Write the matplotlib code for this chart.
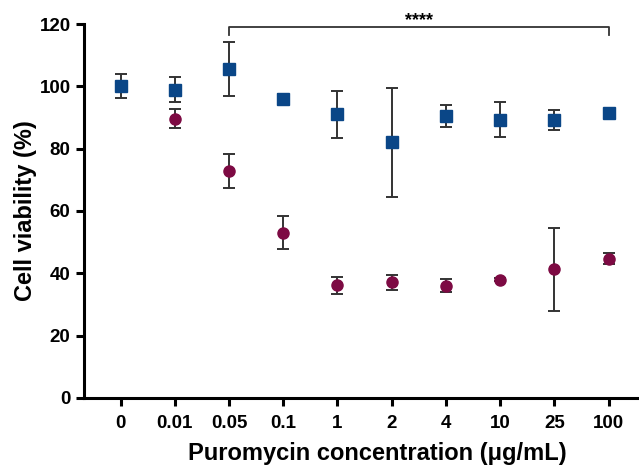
import matplotlib
matplotlib.use("Agg")
import matplotlib.pyplot as plt
import numpy as np

plt.rcParams['font.family'] = ['Liberation Sans', 'DejaVu Sans']
plt.rcParams['font.weight'] = 'bold'

conc = ["0", "0.01", "0.05", "0.1", "1", "2", "4", "10", "25", "100"]

# blue squares
blue_mean = [100.1, 98.8, 105.5, 96.0, 91.0, 82.0, 90.6, 89.3, 89.1, 91.4]
blue_lo = [96.3, 94.9, 96.9, 94.6, 83.5, 64.5, 87.0, 83.7, 86.0, 90.4]
blue_hi = [103.9, 102.9, 114.1, 97.6, 98.5, 99.4, 94.1, 94.9, 92.4, 92.4]

# purple circles
purp_mean = [100.0, 89.5, 72.7, 52.8, 36.3, 37.1, 36.0, 38.0, 41.4, 44.6]
purp_lo = [100.0, 86.5, 67.3, 47.9, 33.5, 34.6, 34.1, 37.5, 28.0, 43.0]
purp_hi = [100.0, 92.7, 78.3, 58.3, 38.8, 39.5, 38.1, 38.5, 54.6, 46.5]

blue = "#0a4687"
purple = "#7d0a43"
errc = "#333333"

x = np.arange(len(conc))

fig = plt.figure(figsize=(6.39, 4.68), dpi=100)
ax = fig.add_axes([0.131, 0.1496, 0.869, 0.7991])

pm = np.array(purp_mean)
ax.errorbar(x, pm, yerr=[pm - np.array(purp_lo), np.array(purp_hi) - pm],
            fmt='o', color=purple, ms=8, ecolor=errc, elinewidth=1.4,
            capsize=4.2, capthick=1.4, zorder=2)
bm = np.array(blue_mean)
ax.errorbar(x, bm, yerr=[bm - np.array(blue_lo), np.array(blue_hi) - bm],
            fmt='s', color=blue, ms=9, ecolor=errc, elinewidth=1.4,
            capsize=4.2, capthick=1.4, zorder=3)

# significance bracket
ax.plot([2, 2, 9, 9], [116.5, 118.9, 118.9, 116.5], color=errc, lw=1.3,
        clip_on=False)
ax.text(5.5, 118.5, "****", ha='center', va='bottom', fontsize=13,
        fontweight='bold')

ax.set_xlim(-0.68, 9.56)
ax.set_ylim(0, 120)
ax.set_xticks(x)
ax.set_xticklabels(conc)
ax.set_yticks([0, 20, 40, 60, 80, 100, 120])

for s in ['top', 'right']:
    ax.spines[s].set_visible(False)
for s in ['left', 'bottom']:
    ax.spines[s].set_linewidth(2.2)
ax.tick_params(width=2.2, length=6, labelsize=13.5)
ax.tick_params(axis='x', pad=6)

ax.set_ylabel("Cell viability (%)", fontsize=17, fontweight='bold',
              labelpad=2)
ax.set_xlabel("Puromycin concentration (\u03bcg/mL)", fontsize=17,
              fontweight='bold')
ax.xaxis.set_label_coords(0.529, -0.118)

fig.savefig("out.png", dpi=100)
